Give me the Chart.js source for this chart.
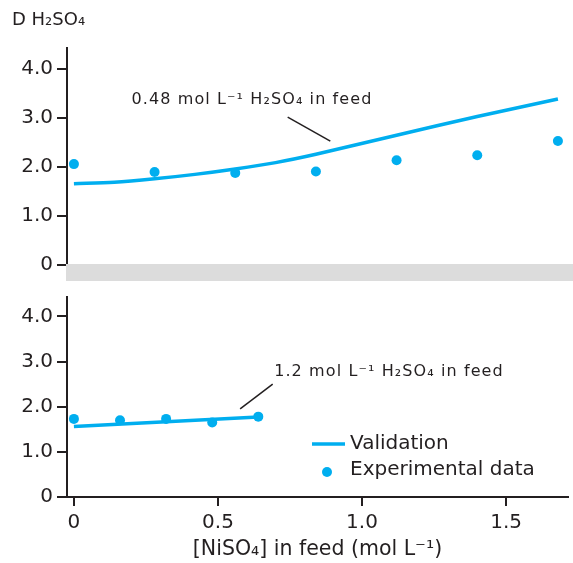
<!DOCTYPE html>
<html>
<head>
<meta charset="utf-8">
<script src="https://cdn.jsdelivr.net/npm/chart.js@4.4.1/dist/chart.umd.min.js"></script>
<style>
  body { margin: 0; background: #fff; }
  #top { position: absolute; left: 0; top: 0; width: 573px; height: 281px; }
  #bot { position: absolute; left: 0; top: 281px; width: 573px; height: 282px; }
</style>
</head>
<body>
<div id="top"><canvas id="graphTop"></canvas></div>
<div id="bot"><canvas id="graphBot"></canvas></div>
<script>
// 0.48 mol/L H2SO4 panel
const xTopExp = [0, 0.28, 0.56, 0.84, 1.12, 1.40, 1.68]
const yTopExp = [2.06, 1.90, 1.88, 1.91, 2.14, 2.24, 2.53]
const xTopFit = [0, 0.14, 0.28, 0.42, 0.56, 0.70, 0.84, 1.12, 1.40, 1.68]
const yTopFit = [1.66, 1.69, 1.76, 1.85, 1.96, 2.09, 2.26, 2.65, 3.03, 3.39]

// 1.2 mol/L H2SO4 panel
const xBotExp = [0, 0.16, 0.32, 0.48, 0.64]
const yBotExp = [1.73, 1.70, 1.73, 1.65, 1.78]
const xBotFit = [0, 0.64]
const yBotFit = [1.56, 1.77]

const yTicks = [0, 1, 2, 3, 4]
const xTicks = [0, 0.5, 1, 1.5]

const blue = "#00aeef"
const ink = "#231f20"
const fontFam = "'DejaVu Sans', Verdana, sans-serif"

const pts = (xs, ys) => xs.map((x, i) => ({ x: x, y: ys[i] }))
const tickLabel = v => v === 0 ? "0" : v.toFixed(1)

function yScale() {
  return {
    min: 0,
    max: 4.43,
    afterFit: s => { s.width = 67 },
    afterBuildTicks: s => { s.ticks = yTicks.map(v => ({ value: v })) },
    ticks: { callback: tickLabel, color: ink, padding: 4, font: { family: fontFam, size: 20 } },
    grid: { display: true, drawOnChartArea: false, drawTicks: true, tickLength: 10, color: ink, lineWidth: 2 },
    border: { display: true, color: ink, width: 2 }
  }
}

function datasets(xe, ye, xf, yf) {
  return [
    {
      label: "Validation",
      data: pts(xf, yf),
      showLine: true,
      borderColor: blue,
      borderWidth: 3.5,
      pointRadius: 0,
      tension: 0.3
    },
    {
      label: "Experimental data",
      data: pts(xe, ye),
      showLine: false,
      backgroundColor: blue,
      borderColor: blue,
      pointRadius: 5,
      pointBorderWidth: 0
    }
  ]
}

// tick marks, drawn on top so they always show
function tickMarks(chart) {
  const ctx = chart.ctx, ys = chart.scales.y, xs = chart.scales.x
  ctx.save()
  ctx.strokeStyle = ink
  ctx.lineWidth = 2
  ctx.beginPath()
  yTicks.forEach(v => {
    const py = Math.round(ys.getPixelForValue(v))
    ctx.moveTo(ys.right - 10, py)
    ctx.lineTo(ys.right, py)
  })
  if (xs.options.display) {
    xTicks.forEach(v => {
      const px = Math.round(xs.getPixelForValue(v))
      ctx.moveTo(px, xs.top)
      ctx.lineTo(px, xs.top + 9)
    })
  }
  ctx.stroke()
  ctx.restore()
}

function note(chart, text, tx, ty, l1, l2) {
  const ctx = chart.ctx, xs = chart.scales.x, ys = chart.scales.y
  ctx.save()
  ctx.fillStyle = ink
  ctx.font = "16px " + fontFam
  ctx.letterSpacing = "1.1px"
  ctx.textBaseline = "middle"
  ctx.fillText(text, xs.getPixelForValue(tx), ys.getPixelForValue(ty))
  ctx.strokeStyle = ink
  ctx.lineWidth = 1.5
  ctx.beginPath()
  ctx.moveTo(xs.getPixelForValue(l1[0]), ys.getPixelForValue(l1[1]))
  ctx.lineTo(xs.getPixelForValue(l2[0]), ys.getPixelForValue(l2[1]))
  ctx.stroke()
  ctx.restore()
}

const topDecor = {
  id: "topDecor",
  afterDraw(chart) {
    const ctx = chart.ctx, a = chart.chartArea
    tickMarks(chart)
    ctx.save()
    ctx.fillStyle = "#dcdcdc"
    ctx.fillRect(a.left - 1, a.bottom - 1, chart.width - a.left + 1, chart.height - a.bottom + 1)
    ctx.fillStyle = ink
    ctx.font = "18px " + fontFam
    ctx.textBaseline = "middle"
    ctx.fillText("D H₂SO₄", 12, 20)
    ctx.restore()
    note(chart, "0.48 mol L⁻¹ H₂SO₄ in feed", 0.2, 3.37, [0.742, 3.02], [0.89, 2.53])
  }
}

const botDecor = {
  id: "botDecor",
  afterDraw(chart) {
    const ctx = chart.ctx
    tickMarks(chart)
    note(chart, "1.2 mol L⁻¹ H₂SO₄ in feed", 0.695, 2.77, [0.69, 2.50], [0.577, 1.95])
    // legend
    ctx.save()
    ctx.strokeStyle = blue
    ctx.lineWidth = 3.5
    ctx.beginPath()
    ctx.moveTo(312, 163)
    ctx.lineTo(345, 163)
    ctx.stroke()
    ctx.fillStyle = blue
    ctx.beginPath()
    ctx.arc(327, 191, 5, 0, Math.PI * 2)
    ctx.fill()
    ctx.fillStyle = ink
    ctx.font = "20px " + fontFam
    ctx.textBaseline = "middle"
    ctx.fillText("Validation", 350, 163)
    ctx.fillText("Experimental data", 350, 189)
    ctx.restore()
  }
}

const xRange = { min: -0.024, max: 1.715 }

new Chart(document.getElementById("graphTop"), {
  type: "scatter",
  data: { datasets: datasets(xTopExp, yTopExp, xTopFit, yTopFit) },
  options: {
    responsive: true,
    maintainAspectRatio: false,
    animation: false,
    layout: { padding: { top: 48, bottom: 16, left: 0, right: 0 } },
    plugins: { legend: { display: false }, tooltip: { enabled: false } },
    scales: {
      x: { type: "linear", min: xRange.min, max: xRange.max, display: false },
      y: yScale()
    }
  },
  plugins: [topDecor]
})

new Chart(document.getElementById("graphBot"), {
  type: "scatter",
  data: { datasets: datasets(xBotExp, yBotExp, xBotFit, yBotFit) },
  options: {
    responsive: true,
    maintainAspectRatio: false,
    animation: false,
    layout: { padding: { top: 0, bottom: 0, left: 0, right: 0 } },
    plugins: { legend: { display: false }, tooltip: { enabled: false } },
    scales: {
      x: {
        type: "linear",
        min: xRange.min,
        max: xRange.max,
        afterFit: s => { s.height = 66 },
        afterBuildTicks: s => { s.ticks = xTicks.map(v => ({ value: v })) },
        ticks: { callback: tickLabel, color: ink, padding: 5, maxRotation: 0, font: { family: fontFam, size: 20 } },
        grid: { display: true, drawOnChartArea: false, drawTicks: true, tickLength: 9, color: ink, lineWidth: 2 },
        border: { display: true, color: ink, width: 2 },
        title: {
          display: true,
          text: "[NiSO₄] in feed (mol L⁻¹)",
          color: ink,
          padding: { top: 0, bottom: 1 },
          font: { family: fontFam, size: 20.5 }
        }
      },
      y: yScale()
    }
  },
  plugins: [botDecor]
})
</script>
</body>
</html>
